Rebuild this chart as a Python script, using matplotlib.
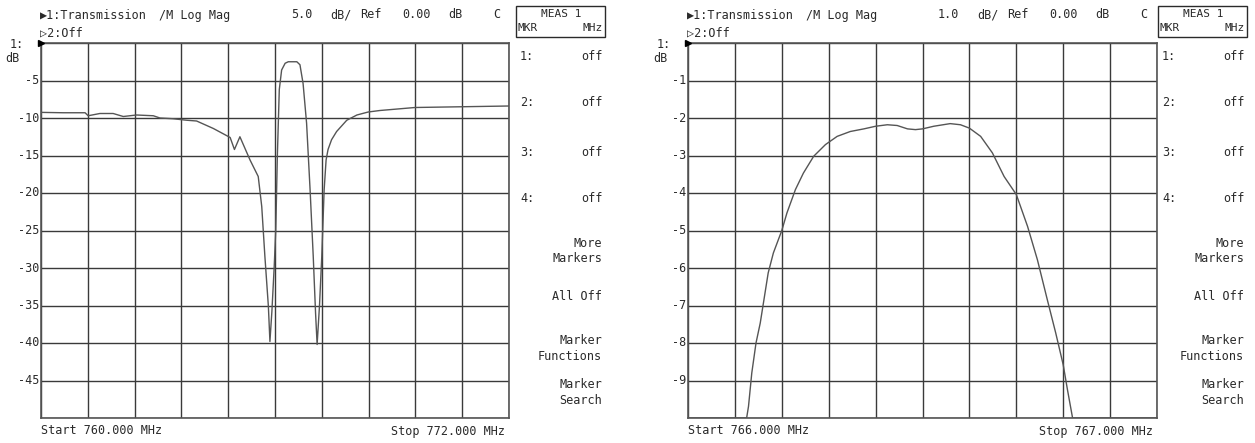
import numpy as np
import matplotlib
matplotlib.use("Agg")
import matplotlib.pyplot as plt
from matplotlib.patches import Rectangle

# trace 1: wide sweep, 760-772 MHz
wide_freq = [760.00, 760.57, 761.13, 761.21, 761.51, 761.85, 762.11, 762.45, 762.88, 763.05,
             763.39, 763.74, 763.99, 764.42, 764.85, 764.96, 765.10, 765.36, 765.57, 765.66,
             765.74, 765.83, 765.87, 765.92, 765.98, 766.02, 766.06, 766.11, 766.17, 766.26,
             766.34, 766.56, 766.64, 766.72, 766.81, 766.90, 766.98, 767.04, 767.08, 767.14,
             767.20, 767.26, 767.31, 767.36, 767.45, 767.58, 767.84, 768.10, 768.39, 768.69,
             769.59, 772.00]
wide_db = [-9.25, -9.3, -9.3, -9.7, -9.4, -9.4, -9.8, -9.6, -9.7, -10.0,
           -10.1, -10.3, -10.4, -11.4, -12.6, -14.2, -12.5, -15.6, -17.8, -21.8,
           -28.4, -35.1, -39.8, -35.8, -29.8, -24.9, -15.1, -6.2, -3.6, -2.7,
           -2.5, -2.5, -2.9, -5.4, -10.7, -19.6, -28.4, -36.0, -40.2, -35.1,
           -28.4, -19.6, -15.6, -14.2, -12.9, -11.8, -10.3, -9.6, -9.2, -9.0,
           -8.6, -8.4]

# trace 2: zoomed passband, 766-767 MHz (clipped at -10 dB)
zoom_freq = [766.000, 766.125, 766.129, 766.136, 766.145, 766.154, 766.162, 766.171, 766.182, 766.200,
             766.211, 766.229, 766.246, 766.268, 766.293, 766.318, 766.346, 766.375, 766.400, 766.425,
             766.446, 766.468, 766.485, 766.500, 766.524, 766.559, 766.581, 766.600, 766.624, 766.649,
             766.674, 766.700, 766.724, 766.745, 766.766, 766.784, 766.800, 766.809, 766.820, 767.000]
zoom_db = [-10.0, -10.0, -9.69, -8.8, -8.0, -7.47, -6.84, -6.13, -5.6, -5.0,
           -4.53, -3.91, -3.47, -3.02, -2.71, -2.49, -2.36, -2.29, -2.22, -2.18,
           -2.2, -2.29, -2.31, -2.29, -2.22, -2.15, -2.18, -2.27, -2.49, -2.93,
           -3.56, -4.04, -4.89, -5.78, -6.84, -7.73, -8.58, -9.24, -10.0, -10.0]

panels = [
    {"freq": wide_freq, "db": wide_db, "start": 760.0, "stop": 772.0, "scale": 5.0,
     "x0": 41, "x1": 509, "menu_r": 605},
    {"freq": zoom_freq, "db": zoom_db, "start": 766.0, "stop": 767.0, "scale": 1.0,
     "x0": 688, "x1": 1157, "menu_r": 1247},
]

W, H = 1255, 443
INK = "#2a2a2a"
MONO = ["DejaVu Sans Mono", "DejaVu Sans"]
FS = 8.5

fig = plt.figure(figsize=(W / 100, H / 100), dpi=100)


def px(x, y):
    # pixel position (from top-left) -> figure fraction
    return x / W, 1 - y / H


def ftext(x, y, s, ha="left", va="center", size=FS):
    fx, fy = px(x, y)
    fig.text(fx, fy, s, ha=ha, va=va, fontsize=size, family=MONO, color=INK)


top, bottom = 43, 418
for p in panels:
    x0, x1 = p["x0"], p["x1"]
    ax = fig.add_axes([x0 / W, 1 - bottom / H, (x1 - x0) / W, (bottom - top) / H])
    ymin = -10 * p["scale"]
    ax.plot(p["freq"], p["db"], color="#555555", lw=1.0, zorder=3)
    ax.set_xlim(p["start"], p["stop"])
    ax.set_ylim(ymin, 0)
    ax.set_xticks(np.linspace(p["start"], p["stop"], 11))
    ax.set_yticks(np.linspace(ymin, 0, 11))
    ax.grid(True, color="#3a3a3a", lw=1.0)
    ax.tick_params(length=0, labelbottom=False, labelleft=False)
    for s in ax.spines.values():
        s.set_color("#555555")
        s.set_linewidth(1.2)
    # reference marker at top-left
    ax.plot([p["start"]], [0], marker=">", color="black", ms=5, clip_on=False, zorder=5)

    # y labels
    for k in range(1, 10):
        val = -k * p["scale"]
        y = top + (bottom - top) * k / 10
        ftext(x0 - 2, y, f"-{abs(val):g}", ha="right")
    ftext(x0 - 17, top + 1, "1:", ha="right")
    ftext(x0 - 21, top + 15, "dB", ha="right")

    # header
    ftext(x0 - 1, 15, "\u25b61:Transmission")
    ftext(x0 + 118, 15, "/M Log Mag")
    ftext(x0 + 250, 15, f"{p['scale']:.1f}")
    ftext(x0 + 289, 15, "dB/")
    ftext(x0 + 319, 15, "Ref")
    ftext(x0 + 361, 15, "0.00")
    ftext(x0 + 407, 15, "dB")
    ftext(x0 + 452, 15, "C")
    ftext(x0 - 1, 33, "\u25b72:Off")

    # footer
    ftext(x0, 431, f"Start {p['start']:.3f} MHz")
    ftext(x1 - 4, 431, f"Stop {p['stop']:.3f} MHz", ha="right")

    # softkey menu
    mr = p["menu_r"]
    bx0, by0 = px(mr - 89, 37)
    fig.patches.append(Rectangle((bx0, by0), 89 / W, 31 / H, transform=fig.transFigure,
                                 fill=False, edgecolor=INK, lw=1.0))
    ftext(mr - 44, 14, "MEAS 1", ha="center", size=8)
    ftext(mr - 87, 28, "MKR", size=8)
    ftext(mr - 2, 28, "MHz", ha="right", size=8)
    for i, yy in enumerate([57, 103, 153, 199]):
        ftext(mr - 85, yy, f"{i + 1}:")
        ftext(mr - 2, yy, "off", ha="right")
    for yy, s in [(243, "More"), (259, "Markers"), (296, "All Off"),
                  (340, "Marker"), (356, "Functions"), (385, "Marker"), (401, "Search")]:
        ftext(mr - 3, yy, s, ha="right")

fig.savefig("out.png", dpi=100, facecolor="white")
